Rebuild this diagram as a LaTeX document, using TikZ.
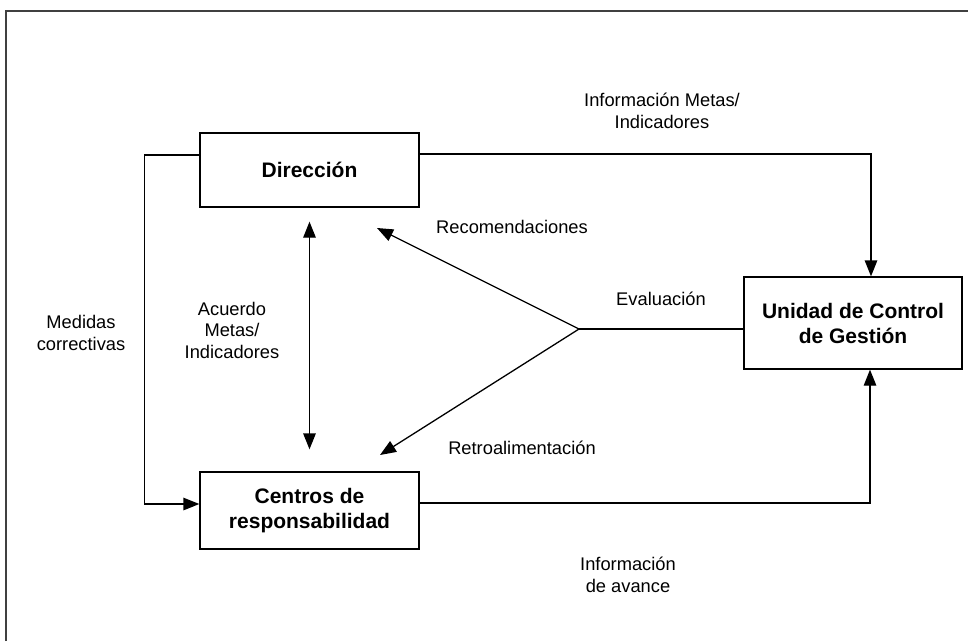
\documentclass[tikz,border=0pt]{standalone}
\usepackage{fontspec}
\setmainfont{Liberation Sans}
\usetikzlibrary{arrows.meta,calc}
\tikzset{
  boxnode/.style={draw, line width=1.3pt, align=center, font=\fontsize{21}{25}\selectfont\bfseries, inner sep=0pt},
  lbl/.style={align=center, font=\fontsize{18.3}{21.5}\selectfont, inner sep=0pt},
  conn/.style={line width=1.3pt},
  arr/.style={conn, -{Triangle[length=16pt,width=12.5pt]}},
  darr/.style={conn, {Triangle[length=16pt,width=12.5pt]}-{Triangle[length=16pt,width=12.5pt]}},
}
\begin{document}
\begin{tikzpicture}[x=1pt,y=-1pt]
\useasboundingbox (0,0) rectangle (968,641);
% frame
\draw[line width=1.8pt, black!75] (6,641) -- (6,11) -- (968,11);
% boxes
\node[boxnode, minimum width=219pt, minimum height=74pt] (dir) at (309.5,170) {Dirección};
\node[boxnode, minimum width=219pt, minimum height=77pt] (cen) at (309.5,510.5) {Centros de\\responsabilidad};
\node[boxnode, minimum width=218pt, minimum height=92pt] (ucg) at (853,323) {Unidad de Control\\de Gestión};
% coordinates
\coordinate (ev) at (579,329);
\coordinate (rtip) at (377,228);
\coordinate (ftip) at (380,455);
% connectors
\draw[arr] ([yshift=16pt]dir.east) -| ([xshift=18pt]ucg.north);
\draw[arr] ([yshift=7.5pt]cen.east) -| ([xshift=17pt]ucg.south);
\draw[arr] ([yshift=15pt]dir.west) -- ++(-55,0) |- ([yshift=6.5pt]cen.west);
\draw[conn] (ev -| ucg.west) -- (ev);
\draw[arr] (ev) -- (rtip);
\draw[arr] (ev) -- (ftip);
\draw[darr] ([yshift=-14pt]dir.south) -- ([yshift=22pt]cen.north);
% labels
\node[lbl] (l1) at (662,111) {Información Metas/\\Indicadores};
\node[lbl] (l2) at (512,227) {Recomendaciones};
\node[lbl] (l3) at (661,299) {Evaluación};
\node[lbl] (l4) at (522,448) {Retroalimentación};
\node[lbl] (l5) at (81,333) {Medidas\\correctivas};
\node[lbl] (l6) at (232,330) {Acuerdo\\Metas/\\Indicadores};
\node[lbl] (l7) at (628,575) {Información\\de avance};
\end{tikzpicture}
\end{document}
